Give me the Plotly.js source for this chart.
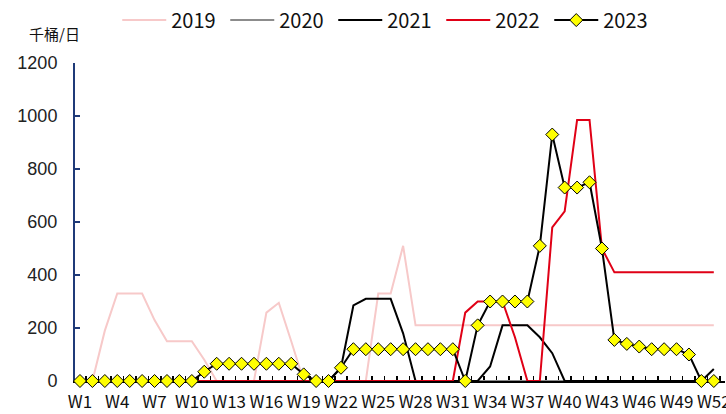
<!DOCTYPE html>
<html>
<head>
<meta charset="utf-8">
<script src="https://cdn.plot.ly/plotly-3.0.1.min.js"></script>
<style>
html,body{margin:0;padding:0;background:#fff;}
#chart{width:726px;height:414px;}
</style>
</head>
<body>
<div id="chart"></div>
<script>
var weeks = ["W1","W2","W3","W4","W5","W6","W7","W8","W9","W10","W11","W12","W13","W14","W15","W16","W17","W18","W19","W20","W21","W22","W23","W24","W25","W26","W27","W28","W29","W30","W31","W32","W33","W34","W35","W36","W37","W38","W39","W40","W41","W42","W43","W44","W45","W46","W47","W48","W49","W50","W51","W52"];

var s2019 = [0,0,190,330,330,330,230,150,150,150,80,0,0,0,0,258,295,150,0,0,0,0,0,0,330,330,510,210,210,210,210,210,210,210,210,210,210,210,210,210,210,210,210,210,210,210,210,210,210,210,210,210];
var s2020 = [0,0,0,0,0,0,0,0,0,0,0,0,0,0,0,0,0,0,0,0,0,0,0,0,0,0,0,0,0,0,0,0,0,0,0,0,0,0,0,0,0,0,0,0,0,0,0,0,0,0,0,0];
var s2021 = [0,0,0,0,0,0,0,0,0,0,0,0,0,0,0,0,0,0,0,0,0,50,285,310,310,310,180,0,0,0,0,0,0,55,210,210,210,165,105,0,0,0,0,0,0,0,0,0,0,0,0,45];
var s2022 = [null,null,null,null,null,null,null,null,null,0,0,0,0,0,0,0,0,0,0,0,0,0,0,0,0,0,0,0,0,0,0,258,300,300,300,165,0,0,580,640,985,985,500,410,410,410,410,410,410,410,410,410];
var s2023 = [0,0,0,0,0,0,0,0,0,0,35,65,65,65,65,65,65,65,25,0,0,50,120,120,120,120,120,120,120,120,120,0,210,300,300,300,300,510,930,730,730,750,500,155,140,130,120,120,120,100,0,0];

var seriesNames = ["2019","2020","2021","2022","2023"];
var yTicks = [0,200,400,600,800,1000,1200];

var xpos = weeks.map(function(w,i){return i+1;});
var labelVals = [], labelText = [];
weeks.forEach(function(w,i){ if(i%3===0){ labelVals.push(i+1); labelText.push(w);} });

var traces = [
  {x:xpos, y:s2019, name:seriesNames[0], mode:'lines', line:{color:'#F7C9C9', width:2}},
  {x:xpos, y:s2020, name:seriesNames[1], mode:'lines', line:{color:'#8C8C8C', width:2}},
  {x:xpos, y:s2021, name:seriesNames[2], mode:'lines', line:{color:'#000000', width:2}},
  {x:xpos, y:s2022, name:seriesNames[3], mode:'lines', line:{color:'#E00016', width:2}},
  {x:xpos, y:s2023, name:seriesNames[4], mode:'lines+markers', cliponaxis:false,
   line:{color:'#000000', width:2},
   marker:{symbol:'diamond', size:10, color:'#FFFF00', line:{color:'#000000', width:1}}}
];

var cjk = '"Noto Sans CJK SC", "Liberation Sans", sans-serif';

var layout = {
  width:726, height:414,
  margin:{l:75, r:1, t:63, b:33},
  paper_bgcolor:'#ffffff', plot_bgcolor:'#ffffff',
  showlegend:true,
  legend:{orientation:'h', x:0.065, xanchor:'left', y:1.135, yanchor:'middle',
          font:{family:cjk, size:20, color:'#111'},
          itemwidth:44, entrywidth:49, entrywidthmode:'pixels', bgcolor:'rgba(0,0,0,0)'},
  xaxis:{type:'linear', range:[0.6,52.9], showgrid:false, zeroline:false,
         showline:true, linecolor:'#000000', linewidth:2, layer:'below traces',
         tickmode:'array', tickvals:labelVals, ticktext:labelText, ticks:'',
         ticklabeloverflow:'allow', ticklabelstandoff:5,
         minor:{tickmode:'linear', tick0:0.5, dtick:1, ticks:'inside', ticklen:5, tickwidth:1.5, tickcolor:'#000', showgrid:false},
         tickfont:{family:cjk, size:17, color:'#111'},
         fixedrange:true},
  yaxis:{range:[0,1200], tickmode:'array', tickvals:yTicks, ticks:'inside', ticklen:5, tickwidth:2, tickcolor:'#1F3A78',
         showgrid:false, zeroline:false, showline:true, linecolor:'#1F3A78', linewidth:2, layer:'below traces',
         ticklabelstandoff:12,
         tickfont:{family:'"Liberation Sans", Arial, sans-serif', size:18, color:'#222'}, fixedrange:true},
  annotations:[{text:'千桶/日', xref:'paper', yref:'paper', x:-0.032, y:1.094, xanchor:'center', yanchor:'middle',
                showarrow:false, font:{family:'"Noto Sans CJK SC", sans-serif', size:15, color:'#111'}}]
};

Plotly.newPlot('chart', traces, layout, {displayModeBar:false, staticPlot:true});
</script>
</body>
</html>
